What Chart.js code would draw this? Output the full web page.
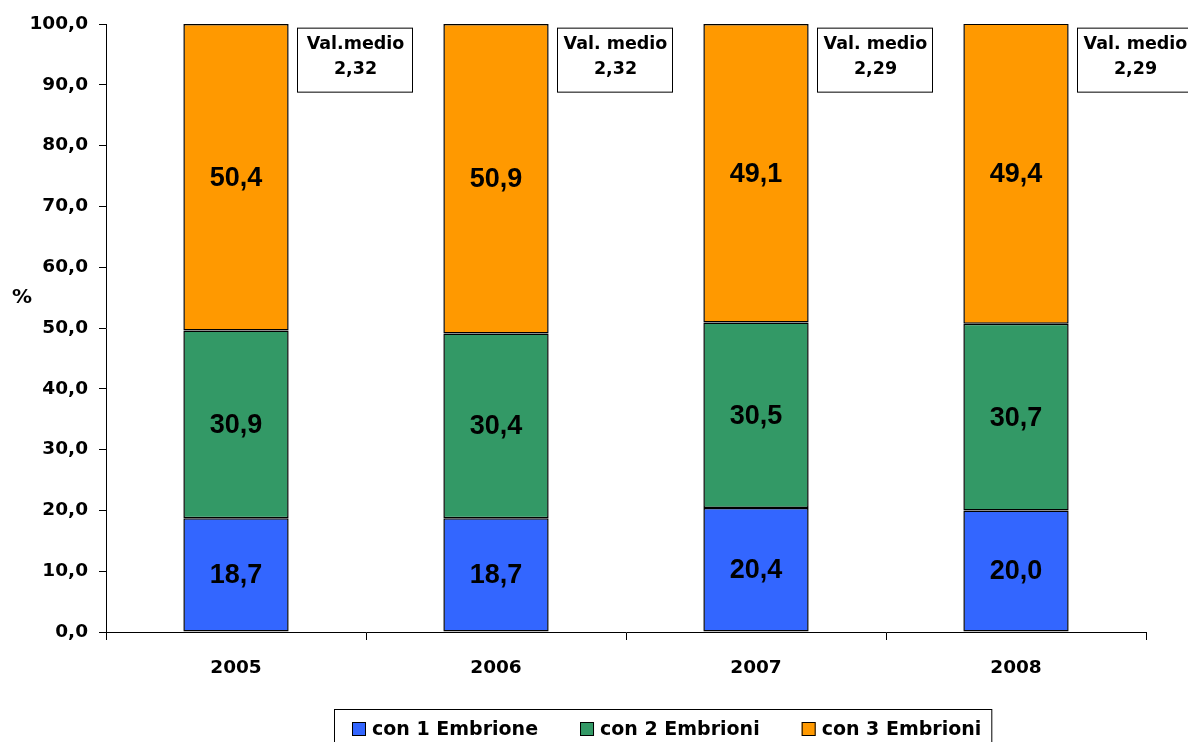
<!DOCTYPE html>
<html>
<head>
<meta charset="utf-8">
<script src="https://cdn.jsdelivr.net/npm/chart.js@4"></script>
<style>
html,body{margin:0;padding:0;background:#fff;}
#wrap{width:1188px;height:742px;position:relative;}
</style>
</head>
<body>
<div id="wrap"><canvas id="c" width="1188" height="742"></canvas></div>
<script>
const categories = ['2005', '2006', '2007', '2008'];
const seriesNames = ['con 1 Embrione', 'con 2 Embrioni', 'con 3 Embrioni'];
const emb1 = [18.7, 18.7, 20.4, 20.0];
const emb2 = [30.9, 30.4, 30.5, 30.7];
const emb3 = [50.4, 50.9, 49.1, 49.4];
const boxTitles = ['Val.medio', 'Val. medio', 'Val. medio', 'Val. medio'];
const boxMeans = ['2,32', '2,32', '2,29', '2,29'];
const colors = ['#3366FF', '#339966', '#FF9900'];

const FONT = 'Arial, "Liberation Sans", sans-serif';
const WIDE = '"DejaVu Sans", Verdana, sans-serif';
const fmt = v => v.toFixed(1).replace('.', ',');

const extras = {
  id: 'extras',
  afterDatasetsDraw(chart) {
    const ctx = chart.ctx;
    ctx.save();
    ctx.fillStyle = '#000';
    ctx.font = 'bold 27px ' + FONT;
    ctx.textAlign = 'center';
    ctx.textBaseline = 'middle';
    chart.data.datasets.forEach((ds, di) => {
      const meta = chart.getDatasetMeta(di);
      meta.data.forEach((el, i) => {
        const yc = (el.y + el.base) / 2;
        ctx.fillText(fmt(ds.data[i]), el.x, yc + 1);
      });
    });
    ctx.restore();
  },
  afterDraw(chart) {
    const ctx = chart.ctx;
    const xs = chart.scales.x, ys = chart.scales.y;
    ctx.save();
    // annotation boxes
    categories.forEach((c, i) => {
      const cx = xs.getPixelForValue(i);
      const left = cx + 61;
      const top = ys.getPixelForValue(99.4);
      const w = 115, h = 64;
      ctx.fillStyle = '#fff';
      ctx.fillRect(left, top, w, h);
      ctx.strokeStyle = '#000';
      ctx.lineWidth = 1;
      ctx.strokeRect(left + 0.5, top + 0.5, w, h);
      ctx.fillStyle = '#000';
      ctx.font = 'bold 17.5px ' + WIDE;
      ctx.textAlign = 'center';
      ctx.textBaseline = 'middle';
      ctx.fillText(boxTitles[i], left + w / 2 + 1, top + 17);
      ctx.fillText(boxMeans[i], left + w / 2 + 1, top + 42);
    });
    // % label
    ctx.font = 'bold 20px ' + WIDE;
    ctx.textAlign = 'center';
    ctx.textBaseline = 'middle';
    ctx.fillText('%', 22, 298);
    // legend
    ctx.font = 'bold 19px ' + WIDE;
    ctx.textAlign = 'left';
    let x = 352;
    const yMid = 729;
    seriesNames.forEach((n, i) => {
      ctx.fillStyle = colors[i];
      ctx.fillRect(x, yMid - 7, 14, 14);
      ctx.strokeStyle = '#000';
      ctx.lineWidth = 1;
      ctx.strokeRect(x + 0.5, yMid - 7 + 0.5, 13, 13);
      ctx.fillStyle = '#000';
      ctx.fillText(n, x + 20, yMid + 1);
      x += 20 + ctx.measureText(n).width + 42;
    });
    const right = x - 42 + 10;
    ctx.strokeStyle = '#000';
    ctx.lineWidth = 1;
    ctx.strokeRect(334.5, 709.5, right - 334, 40);
    ctx.restore();
  }
};

new Chart(document.getElementById('c'), {
  type: 'bar',
  data: {
    labels: categories,
    datasets: [emb1, emb2, emb3].map((d, i) => ({
      label: seriesNames[i],
      data: d,
      backgroundColor: colors[i],
      borderColor: '#000',
      borderWidth: 1.5,
      borderSkipped: false,
      categoryPercentage: 1,
      barPercentage: 0.405
    }))
  },
  options: {
    responsive: false,
    animation: false,
    devicePixelRatio: 1,
    layout: { padding: { top: 24, right: 42, left: 0, bottom: 0 } },
    plugins: { legend: { display: false }, tooltip: { enabled: false } },
    scales: {
      x: {
        stacked: true,
        afterFit(s) { s.height = 110; },
        grid: { display: true, drawOnChartArea: false, offset: true, tickLength: 8, color: '#000', lineWidth: 1 },
        border: { display: true, color: '#000', width: 1 },
        ticks: { color: '#000', font: { family: WIDE, size: 18.5, weight: 'bold' }, padding: 17 }
      },
      y: {
        stacked: true,
        min: 0, max: 100,
        afterFit(s) { s.width = 106; },
        grid: { display: true, drawOnChartArea: false, tickLength: 7, color: '#000', lineWidth: 1 },
        border: { display: true, color: '#000', width: 1 },
        ticks: { stepSize: 10, color: '#000', padding: 11, font: { family: WIDE, size: 18.5, weight: 'bold' }, callback: v => fmt(v) }
      }
    }
  },
  plugins: [extras]
});
</script>
</body>
</html>
